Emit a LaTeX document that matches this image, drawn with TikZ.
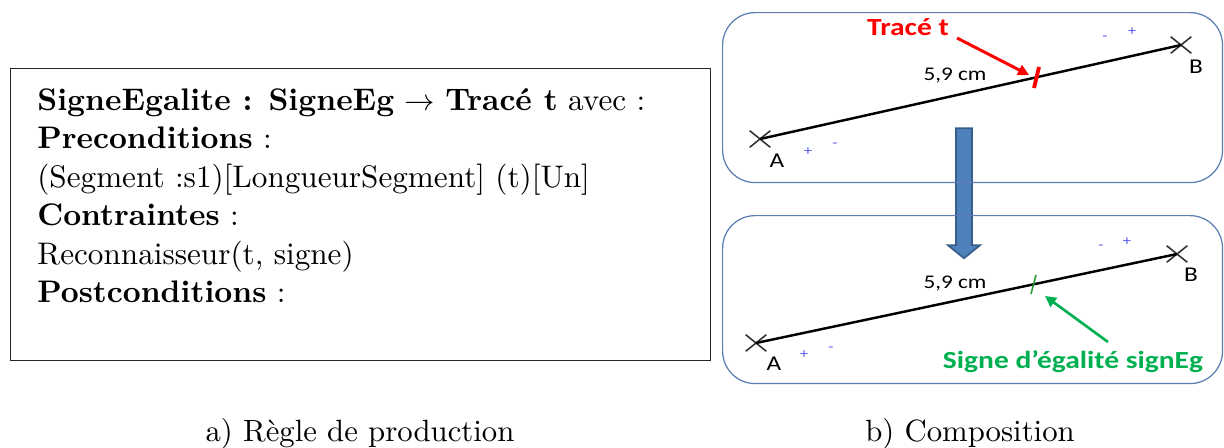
\documentclass[tikz,border=0pt]{standalone}
\usepackage{fontspec}
\setmainfont{lmroman10-regular.otf}[BoldFont=lmroman10-bold.otf, ItalicFont=lmroman10-italic.otf, BoldItalicFont=lmroman10-bolditalic.otf]
\usepackage{tikz}
\usetikzlibrary{shapes.misc,shapes.arrows,arrows.meta,positioning}
\newfontfamily\sketchfont{Carlito}[FakeStretch=1.2]
\definecolor{tracered}{HTML}{FF0000}
\definecolor{signgreen}{HTML}{00B050}
\definecolor{tickgreen}{HTML}{2E9B3A}
\definecolor{panelblue}{HTML}{5B7DB1}
\definecolor{flowblue}{HTML}{4F81BD}
\definecolor{flowedge}{HTML}{385D8A}
\definecolor{markblue}{HTML}{5A5AF0}
\definecolor{crossgray}{HTML}{333333}

\begin{document}
\begin{tikzpicture}[x=0.02cm, y=-0.02cm,
    ruleline/.style={anchor=base west, inner sep=0pt, font=\fontsize{17.75}{21}\selectfont},
    rulebox/.style={draw=black!85, line width=0.7pt, anchor=north west, inner sep=0pt},
    panel/.style={draw=panelblue, line width=0.7pt, rounded corners=0.65cm, anchor=north west, inner sep=0pt},
    endpt/.style={cross out, draw=crossgray, line width=0.9pt, minimum width=0.38cm, minimum height=0.3cm, inner sep=0pt},
    seg/.style={line width=1.4pt},
    ptlabel/.style={font=\sketchfont\fontsize{12}{12}\selectfont, inner sep=0pt},
    lenlabel/.style={font=\sketchfont\fontsize{11}{12}\selectfont, inner sep=0pt},
    sgn/.style={font=\sketchfont\fontsize{8}{8}\selectfont, text=markblue, inner sep=0pt},
    redtick/.style={draw=tracered, line width=2.2pt},
    greentick/.style={draw=tickgreen, line width=0.9pt},
    redarrow/.style={draw=tracered, line width=1.7pt, -{Triangle[length=0.22cm, width=0.22cm]}},
    greenarrow/.style={draw=signgreen, line width=1.5pt, -{Triangle[length=0.22cm, width=0.22cm]}},
    flow/.style={single arrow, draw=flowedge, fill=flowblue, line width=1pt, rotate=-90,
                 minimum height=2.6cm, minimum width=0.64cm, single arrow head extend=0.16cm,
                 single arrow tip angle=102, inner xsep=0pt, inner ysep=0.14cm},
    caption/.style={font=\fontsize{17.5}{21}\selectfont, anchor=base, inner sep=0pt}
]
\useasboundingbox (0,0) rectangle (1224,447);

% --- a) production rule ---
\node[rulebox, minimum width=14cm, minimum height=5.84cm] (rule) at (10,68) {};
\node[ruleline] (l1) at (37,110) {\textbf{SigneEgalite : SigneEg} $\rightarrow$ \textbf{Tracé t} avec :};
\node[ruleline] (l2) at (37,148) {\textbf{Preconditions} :};
\node[ruleline] (l3) at (37,187) {(Segment :s1)[LongueurSegment] (t)[Un]};
\node[ruleline] (l4) at (37,225) {\textbf{Contraintes} :};
\node[ruleline] (l5) at (37,264) {Reconnaisseur(t, signe)};
\node[ruleline] (l6) at (37,302) {\textbf{Postconditions} :};

% --- composition arrow (under the panels) ---
\node[flow] (compose) at (964,190) {};

% --- b) top panel: trace t ---
\node[panel, minimum width=10cm, minimum height=3.4cm] (top) at (722,12) {};
\node[endpt] (A1) at (760,139) {};
\node[endpt] (B1) at (1181,45) {};
\draw[seg] (A1.center) -- (B1.center);
\node[ptlabel] (a1) at (777,161) {A};
\node[ptlabel] (b1) at (1196,67) {B};
\node[lenlabel] (len1) at (955,75) {5,9 cm};
\node[sgn] (p1) at (808,152) {+};
\node[sgn] (m1) at (835,145) {-};
\node[sgn] (m2) at (1105,38) {-};
\node[sgn] (p2) at (1132,32) {+};
\coordinate (t1a) at (1039,67);
\coordinate (t1b) at (1034,88);
\draw[redtick] (t1a) -- (t1b);
\node[font=\sketchfont\bfseries\fontsize{14}{15}\selectfont, text=tracered, inner sep=0pt] (trace) at (908,27) {Tracé t};
\coordinate (rs) at (957,38);
\coordinate (re) at (1029,75);
\draw[redarrow] (rs) -- (re);

% --- b) bottom panel: signEg ---
\node[panel, minimum width=10cm, minimum height=3.36cm] (bot) at (722,215) {};
\node[endpt] (A2) at (756,343) {};
\node[endpt] (B2) at (1177,254) {};
\draw[seg] (A2.center) -- (B2.center);
\node[ptlabel] (a2) at (774,364) {A};
\node[ptlabel] (b2) at (1191,275) {B};
\node[lenlabel] (len2) at (955,283) {5,9 cm};
\node[sgn] (p3) at (804,355) {+};
\node[sgn] (m3) at (831,349) {-};
\node[sgn] (m4) at (1101,247) {-};
\node[sgn] (p4) at (1127,242) {+};
\coordinate (t2a) at (1036,275);
\coordinate (t2b) at (1031,294);
\draw[greentick] (t2a) -- (t2b);
\node[font=\sketchfont\bfseries\fontsize{14}{15}\selectfont, text=signgreen, inner sep=0pt] (signeg) at (1073,362) {Signe d’égalité signEg};
\coordinate (gs) at (1108,342);
\coordinate (ge) at (1045,296);
\draw[greenarrow] (gs) -- (ge);

% --- captions ---
\node[caption] (capa) at (360,441) {a) Règle de production};
\node[caption] (capb) at (970,441) {b) Composition};

\end{tikzpicture}
\end{document}
